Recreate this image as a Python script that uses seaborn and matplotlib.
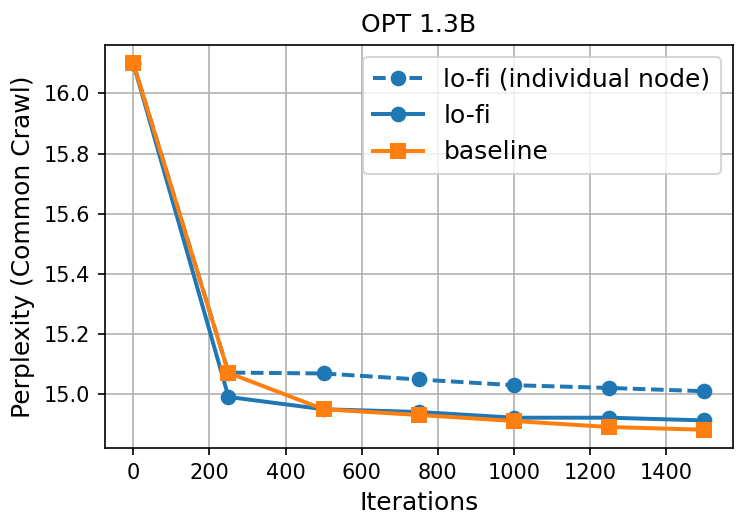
import pandas as pd
import seaborn as sns
import matplotlib as mpl
mpl.use('Agg')
import matplotlib.pyplot as plt

iterations = [0, 250, 500, 750, 1000, 1250, 1500]
lofi_node = [16.10, 15.072, 15.069, 15.049, 15.030, 15.021, 15.010]
lofi = [16.10, 14.991, 14.950, 14.941, 14.922, 14.922, 14.913]
baseline = [16.10, 15.071, 14.950, 14.931, 14.911, 14.891, 14.882]
labels = ['lo-fi (individual node)', 'lo-fi', 'baseline']

df = pd.DataFrame({
    'Iterations': iterations * 3,
    'ppl': lofi_node + lofi + baseline,
    'run': [labels[0]] * 7 + [labels[1]] * 7 + [labels[2]] * 7,
})

fig, ax = plt.subplots(figsize=(748 / 150, 529 / 150), dpi=150)
fig.subplots_adjust(left=0.140, right=0.980, top=0.915, bottom=0.153)

sns.lineplot(data=df, x='Iterations', y='ppl', hue='run', style='run',
             markers={labels[0]: 'o', labels[1]: 'o', labels[2]: 's'},
             dashes={labels[0]: (3.2, 1.4), labels[1]: '', labels[2]: ''},
             palette={labels[0]: '#1f77b4', labels[1]: '#1f77b4', labels[2]: '#ff7f0e'},
             markersize=7.5, markeredgewidth=0, linewidth=1.9, ax=ax)

ax.grid(True, color='#b0b0b0', linewidth=0.8)
ax.set_axisbelow(True)
ax.set_title('OPT 1.3B', fontsize=12)
ax.set_xlabel('Iterations', fontsize=12)
ax.set_ylabel('Perplexity (Common Crawl)', fontsize=12)
ax.tick_params(labelsize=10)
ax.legend(fontsize=12, loc='upper right')

plt.savefig('out.png', dpi=150)
